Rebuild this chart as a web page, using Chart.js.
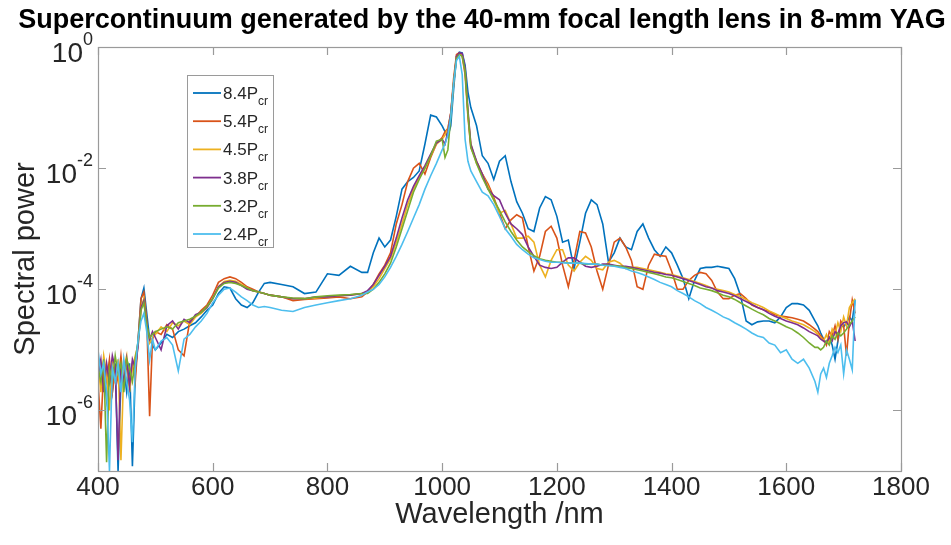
<!DOCTYPE html>
<html>
<head>
<meta charset="utf-8">
<title>Supercontinuum</title>
<script src="https://cdn.jsdelivr.net/npm/chart.js@4.4.1/dist/chart.umd.min.js"></script>
<style>
  html, body { margin: 0; padding: 0; background: #fff; }
</style>
</head>
<body>
<canvas id="myChart" width="951" height="545"></canvas>
<script>
// wavelength grid (nm)
const wavelength = [
  400,405,410,415,420,425,430,435,440,445,450,455,460,465,470,475,480,485,490,495,500,
  510,520,530,540,550,560,570,580,590,600,610,620,630,640,650,660,670,680,690,700,
  720,740,760,780,800,820,840,860,
  870,880,890,900,910,920,930,940,950,960,970,980,990,1000,
  1005,1010,1015,1020,1025,1030,1035,1040,1045,1050,
  1060,1070,1080,1090,1100,1110,1120,1130,1140,1150,
  1160,1170,1180,1190,1200,1210,1220,1230,1240,1250,
  1260,1270,1280,1290,1300,1310,1320,1330,1340,1350,
  1360,1370,1380,1390,1400,1410,1420,1430,1440,1450,
  1460,1470,1480,1490,1500,1510,1520,1530,1540,1550,
  1560,1570,1580,1590,1600,1610,1620,1630,1640,1650,
  1655,1660,1665,1670,1675,1680,1685,1690,1695,1700,1705,1710,1715,1720
];

// spectral power for each pump power
const p84 = [
  8e-6,3e-6,5e-6,1.5e-6,4e-6,2e-6,6e-6,1e-7,3e-6,5e-6,2e-6,6e-6,1.2e-7,4e-6,1.5e-5,7e-5,1.05e-4,4e-5,1.5e-5,1.2e-5,1e-5,
  1.3e-5,1.8e-5,1.6e-5,2e-5,2.2e-5,2.5e-5,2.8e-5,3.5e-5,4.5e-5,5.5e-5,8.5e-5,1.1e-4,1.05e-4,7e-5,5.5e-5,5e-5,6e-5,9e-5,1.25e-4,1.3e-4,
  1.2e-4,1.1e-4,8.5e-5,9e-5,1.8e-4,1.7e-4,2.4e-4,1.9e-4,
  1.9e-4,4e-4,7e-4,5e-4,6.5e-4,1.6e-3,4.5e-3,6e-3,7e-3,9e-3,2.5e-2,7.5e-2,7e-2,5e-2,
  4e-2,3.3e-2,5e-2,2e-1,7e-1,8.2e-1,8e-1,5e-1,1.8e-1,1e-1,
  5e-2,1.6e-2,1.2e-2,6.5e-3,1.3e-2,1.6e-2,6e-3,2.8e-3,1.8e-3,1e-3,
  9e-4,2.2e-3,3.4e-3,3e-3,1.6e-3,6e-4,6.5e-4,2.2e-4,6e-4,1.8e-3,
  3e-3,2.5e-3,1.2e-3,2.8e-4,4e-4,7e-4,5e-4,4.5e-4,9e-4,1.2e-3,
  7e-4,4.5e-4,3.5e-4,5e-4,4e-4,2.5e-4,1.5e-4,7e-5,1.4e-4,2.2e-4,
  2.3e-4,2.3e-4,2.4e-4,2.3e-4,2.2e-4,1.5e-4,8e-5,3e-5,2.6e-5,2.9e-5,
  3e-5,3e-5,2.8e-5,3.5e-5,5e-5,5.8e-5,5.8e-5,5.5e-5,4.5e-5,3e-5,
  2.5e-5,1.9e-5,1.5e-5,1.3e-5,1.6e-5,1.2e-5,7e-6,1.4e-5,2.5e-5,2.4e-5,2.8e-5,3.5e-5,3e-5,6.7e-5
];
const p54 = [
  3e-6,5e-7,5e-6,3e-6,7e-6,2e-6,5e-6,3e-6,8e-6,2.5e-6,6e-6,3e-6,6e-6,3e-6,1.5e-5,7e-5,9e-5,3e-5,8e-7,1.5e-5,2e-5,
  1.8e-5,2.6e-5,2.2e-5,1e-5,8e-6,3e-5,3.5e-5,4.5e-5,5.5e-5,8e-5,1.3e-4,1.5e-4,1.6e-4,1.5e-4,1.3e-4,1.1e-4,1e-4,9e-5,8.5e-5,8e-5,
  7.5e-5,6.5e-5,6.8e-5,7e-5,7.2e-5,7.5e-5,7e-5,7.5e-5,
  9e-5,1.2e-4,1.8e-4,2.5e-4,4e-4,1.2e-3,2.5e-3,6e-3,1e-2,1.2e-2,8e-3,1.5e-2,2.5e-2,3.2e-2,
  4e-2,4.5e-2,8e-2,3e-1,7.5e-1,8e-1,7e-1,3.5e-1,7e-2,2.2e-2,
  1.3e-2,8e-3,5.5e-3,3.3e-3,1.8e-3,1e-3,1.4e-3,1.7e-3,1.5e-3,5e-4,
  2e-4,3.5e-4,9e-4,1.1e-3,7e-4,2.5e-4,1.1e-4,3e-4,9e-4,8.5e-4,
  5e-4,2e-4,1e-4,2.5e-4,6e-4,7e-4,5e-4,3e-4,1.1e-4,1e-4,
  2.5e-4,3.8e-4,3.6e-4,3.5e-4,2e-4,1e-4,1e-4,1.4e-4,1.7e-4,1.9e-4,
  1.8e-4,1.4e-4,9e-5,7e-5,7e-5,8e-5,8.5e-5,7e-5,5.5e-5,5e-5,
  4.6e-5,4.3e-5,3.8e-5,3.6e-5,3.5e-5,3.4e-5,3.2e-5,3e-5,2.6e-5,2.2e-5,
  2e-5,1.7e-5,1.5e-5,1.2e-5,2e-5,1.7e-5,2.5e-5,1.5e-5,3e-5,2.5e-5,8e-6,3e-5,6.7e-5,4e-5
];
const p45 = [
  6e-6,2e-6,8e-6,4e-6,1e-6,6e-6,3e-6,7e-6,1.5e-7,5e-6,8e-6,2e-6,5e-6,8e-6,1.2e-5,5e-5,7e-5,2.5e-5,1.3e-5,1.6e-5,1.8e-5,
  2.4e-5,2e-5,2.8e-5,2.5e-5,3e-5,2.6e-5,3.5e-5,4e-5,5e-5,7e-5,1.1e-4,1.35e-4,1.4e-4,1.35e-4,1.2e-4,1.05e-4,9.5e-5,9e-5,8.5e-5,8e-5,
  7.5e-5,7e-5,7e-5,7.2e-5,7.5e-5,7.8e-5,8e-5,8.5e-5,
  9e-5,1.1e-4,1.5e-4,2.2e-4,3.2e-4,6e-4,1.2e-3,2.5e-3,4.5e-3,7e-3,1e-2,1.6e-2,2.5e-2,3e-2,
  3.5e-2,4.5e-2,8e-2,2.5e-1,7e-1,7.8e-1,7.5e-1,4e-1,8e-2,2.5e-2,
  1.2e-2,8e-3,5e-3,3e-3,1.8e-3,2e-3,1.2e-3,7e-4,7e-4,7.5e-4,
  6e-4,2.5e-4,1.6e-4,3e-4,4.5e-4,4.5e-4,2.5e-4,2e-4,2.8e-4,3.5e-4,
  3e-4,2.2e-4,2.1e-4,2.8e-4,3e-4,2.7e-4,2.2e-4,2.3e-4,2.3e-4,2.2e-4,
  2.1e-4,2e-4,1.9e-4,1.8e-4,1.75e-4,1.65e-4,1.55e-4,1.45e-4,1.35e-4,1.25e-4,
  1.15e-4,1.05e-4,1e-4,9.5e-5,9e-5,8.2e-5,7.5e-5,6.8e-5,6e-5,5.5e-5,
  5e-5,4.4e-5,4e-5,3.6e-5,3.3e-5,3e-5,2.8e-5,2.6e-5,2.3e-5,2e-5,
  1.8e-5,1.6e-5,1.4e-5,1.8e-5,1.3e-5,2.2e-5,1.8e-5,2.8e-5,2e-5,3.5e-5,2.5e-5,5e-5,6e-5,7e-5
];
const p38 = [
  4e-6,7e-6,2e-6,6e-6,3e-6,8e-6,5e-6,1.5e-7,6e-6,3e-6,7e-6,2.5e-6,7e-6,5e-6,1.2e-5,5e-5,6.5e-5,2.5e-5,1.5e-5,2e-5,1.6e-5,
  1e-5,2.5e-5,3e-5,2.2e-5,3.2e-5,2.8e-5,3.8e-5,4.2e-5,5e-5,7e-5,1.1e-4,1.3e-4,1.35e-4,1.3e-4,1.15e-4,1e-4,9.5e-5,9e-5,8.5e-5,8e-5,
  7.5e-5,7e-5,7e-5,7.5e-5,7.5e-5,7.8e-5,8e-5,8.5e-5,
  9.5e-5,1.2e-4,1.7e-4,2.4e-4,3.5e-4,7e-4,1.5e-3,3e-3,5e-3,7.5e-3,1.1e-2,1.7e-2,2.6e-2,3e-2,
  2.5e-2,4e-2,8e-2,2.5e-1,7e-1,8e-1,7.8e-1,4.5e-1,9e-2,2.5e-2,
  1.3e-2,8e-3,4.5e-3,3.5e-3,3e-3,1.8e-3,1.2e-3,1e-3,8e-4,5e-4,
  3.5e-4,2.5e-4,2.3e-4,2.2e-4,2.3e-4,2.8e-4,3.3e-4,3.3e-4,2.8e-4,2.4e-4,
  2.3e-4,2.4e-4,2.6e-4,2.6e-4,2.5e-4,2.4e-4,2.4e-4,2.3e-4,2.2e-4,2.1e-4,
  2e-4,1.9e-4,1.85e-4,1.75e-4,1.7e-4,1.6e-4,1.5e-4,1.4e-4,1.3e-4,1.2e-4,
  1.1e-4,1.05e-4,9.5e-5,9e-5,8.5e-5,7.8e-5,7e-5,6.3e-5,5.6e-5,5e-5,
  4.6e-5,4e-5,3.6e-5,3.3e-5,3e-5,2.8e-5,2.6e-5,2.3e-5,2e-5,1.8e-5,
  1.7e-5,1.5e-5,1.4e-5,1.3e-5,1.6e-5,1.4e-5,2e-5,1.8e-5,2.5e-5,2.8e-5,2.9e-5,2.4e-5,3e-5,1.4e-5
];
const p32 = [
  5e-6,3e-6,7e-6,1.4e-7,5e-6,3e-6,8e-6,4e-6,6e-6,2e-6,7e-6,5e-6,3e-6,7e-6,1.4e-5,4.5e-5,6e-5,2.5e-5,1.6e-5,1.8e-5,2e-5,
  2.2e-5,2.4e-5,2.2e-5,2.8e-5,3e-5,3.2e-5,3.6e-5,4.2e-5,5.2e-5,7e-5,1.05e-4,1.25e-4,1.3e-4,1.25e-4,1.15e-4,1.05e-4,9.5e-5,9e-5,8.5e-5,8e-5,
  7.5e-5,7.2e-5,7e-5,7.5e-5,7.8e-5,8e-5,8.2e-5,8.5e-5,
  8.5e-5,1e-4,1.3e-4,1.8e-4,2.7e-4,5e-4,1e-3,2e-3,4e-3,6.5e-3,1e-2,1.6e-2,2.8e-2,3e-2,
  1.5e-2,2e-2,7e-2,2.5e-1,6.5e-1,7.5e-1,7e-1,4e-1,8e-2,2.2e-2,
  1.2e-2,7e-3,4.5e-3,3e-3,2e-3,1.3e-3,9e-4,6.5e-4,5e-4,4.2e-4,
  3.6e-4,3.2e-4,3e-4,2.9e-4,2.8e-4,2.8e-4,2.7e-4,2.7e-4,2.7e-4,2.6e-4,
  2.6e-4,2.6e-4,2.5e-4,2.5e-4,2.45e-4,2.4e-4,2.3e-4,2.2e-4,2.1e-4,2e-4,
  1.9e-4,1.8e-4,1.7e-4,1.6e-4,1.55e-4,1.45e-4,1.35e-4,1.25e-4,1.15e-4,1.05e-4,
  1e-4,9.5e-5,8.8e-5,8e-5,7.5e-5,6.8e-5,6e-5,5.3e-5,4.7e-5,4.2e-5,
  3.8e-5,3.3e-5,3e-5,2.7e-5,2.4e-5,2.2e-5,1.9e-5,1.6e-5,1.3e-5,1.1e-5,
  1.1e-5,1e-5,1.1e-5,1.4e-5,1.2e-5,1.7e-5,1.5e-5,1.9e-5,1.7e-5,1.9e-5,2.2e-5,2.6e-5,3e-5,3.5e-5
];
const p24 = [
  1e-5,4e-6,6e-6,2e-6,1e-7,5e-6,3e-6,6e-6,2e-6,7e-6,3e-6,1.5e-6,3e-7,5e-6,1.5e-5,3e-5,4e-5,2e-5,6.8e-6,1.5e-5,1e-5,
  1.4e-5,1.6e-5,1.2e-5,4.5e-6,1.5e-5,1.8e-5,2.4e-5,3e-5,4e-5,6e-5,8e-5,1e-4,1.05e-4,9e-5,7.5e-5,6.5e-5,5.5e-5,5e-5,5.2e-5,5e-5,
  4.5e-5,4.3e-5,5e-5,5.5e-5,6e-5,6.5e-5,7e-5,8e-5,
  9e-5,1e-4,1.2e-4,1.6e-4,2.3e-4,3.5e-4,5.5e-4,9e-4,1.5e-3,2.5e-3,4.5e-3,7.5e-3,1.2e-2,2e-2,
  2.5e-2,3.5e-2,7e-2,2.5e-1,6e-1,7e-1,3.5e-1,3e-2,1.3e-2,9e-3,
  6e-3,4e-3,3.5e-3,2.5e-3,1.6e-3,1e-3,7.5e-4,5.5e-4,4.5e-4,3.8e-4,
  3.3e-4,3.1e-4,2.9e-4,2.8e-4,2.8e-4,2.75e-4,2.7e-4,2.7e-4,2.7e-4,2.65e-4,
  2.6e-4,2.6e-4,2.5e-4,2.45e-4,2.4e-4,2.3e-4,2.2e-4,2e-4,1.9e-4,1.75e-4,
  1.6e-4,1.45e-4,1.3e-4,1.2e-4,1.1e-4,9.5e-5,8.5e-5,7.5e-5,6.5e-5,5.8e-5,
  5e-5,4.5e-5,4e-5,3.5e-5,3.2e-5,2.8e-5,2.5e-5,2.2e-5,1.9e-5,1.7e-5,
  1.6e-5,1.3e-5,1.2e-5,9e-6,1e-5,7e-6,6e-6,7e-6,5e-6,3e-6,
  2e-6,4e-6,5e-6,3.5e-6,6e-6,8e-6,1.1e-5,9e-6,1.2e-5,4e-6,1e-5,7e-6,4.7e-6,6.7e-5
];

const seriesLabels = ['8.4', '5.4', '4.5', '3.8', '3.2', '2.4'];
const seriesColors = ['#0072BD', '#D95319', '#EDB120', '#7E2F8E', '#77AC30', '#4DBEEE'];
const xTickValues = [400, 600, 800, 1000, 1200, 1400, 1600, 1800];
const yTickValues = [1, 1e-2, 1e-4, 1e-6];
const yTickExponents = ['0', '-2', '-4', '-6'];
const chartTitle = 'Supercontinuum generated by the 40-mm focal length lens in 8-mm YAG';

const FONT = "'Liberation Sans', Arial, sans-serif";
const allSeries = [p84, p54, p45, p38, p32, p24];

const datasets = allSeries.map((vals, i) => ({
  label: seriesLabels[i] + 'Pcr',
  data: wavelength.map((w, k) => ({ x: w, y: vals[k] })),
  borderColor: seriesColors[i],
  backgroundColor: seriesColors[i],
  borderWidth: 1.6,
  pointRadius: 0,
  tension: 0,
  fill: false,
  order: allSeries.length - i   // last series on top, like matlab
}));

// box, inward ticks, y labels with superscripts, title and legend
const decorations = {
  id: 'decorations',
  afterDraw(chart) {
    const { ctx, chartArea: a, scales: { x, y } } = chart;
    ctx.save();

    ctx.strokeStyle = '#9a9a9a';
    ctx.lineWidth = 1.2;
    ctx.strokeRect(a.left + 0.5, a.top + 0.5, a.right - a.left, a.bottom - a.top);
    ctx.beginPath();
    xTickValues.forEach(v => {
      const px = Math.round(x.getPixelForValue(v)) + 0.5;
      ctx.moveTo(px, a.bottom); ctx.lineTo(px, a.bottom - 8);
      ctx.moveTo(px, a.top); ctx.lineTo(px, a.top + 8);
    });
    yTickValues.forEach(v => {
      const py = Math.round(y.getPixelForValue(v)) + 0.5;
      ctx.moveTo(a.left, py); ctx.lineTo(a.left + 8, py);
      ctx.moveTo(a.right, py); ctx.lineTo(a.right - 8, py);
    });
    ctx.stroke();

    // y tick labels: 10 with exponent
    ctx.fillStyle = '#262626';
    ctx.textBaseline = 'alphabetic';
    yTickValues.forEach((v, i) => {
      const py = y.getPixelForValue(v);
      ctx.font = '18px ' + FONT;
      const ew = ctx.measureText(yTickExponents[i]).width;
      const right = a.left - 5;
      ctx.textAlign = 'left';
      ctx.fillText(yTickExponents[i], right - ew, py - 2);
      ctx.font = '28px ' + FONT;
      ctx.textAlign = 'right';
      ctx.fillText('10', right - ew, py + 15);
    });

    // title
    ctx.fillStyle = '#000';
    ctx.font = 'bold 27px ' + FONT;
    ctx.textAlign = 'center';
    ctx.fillText(chartTitle, 482, 28);

    // legend
    const lx = 187.5, ly = 75.5, lw = 86, lh = 172;
    ctx.fillStyle = '#fff';
    ctx.fillRect(lx, ly, lw, lh);
    ctx.strokeStyle = '#9a9a9a';
    ctx.lineWidth = 1;
    ctx.strokeRect(lx, ly, lw, lh);
    seriesLabels.forEach((lab, i) => {
      const cy = 93 + i * 28.2;
      ctx.strokeStyle = seriesColors[i];
      ctx.lineWidth = 1.8;
      ctx.beginPath();
      ctx.moveTo(193, cy); ctx.lineTo(221, cy);
      ctx.stroke();
      ctx.fillStyle = '#262626';
      ctx.textAlign = 'left';
      ctx.font = '17px ' + FONT;
      const main = lab + 'P';
      ctx.fillText(main, 223, cy + 6);
      const mw = ctx.measureText(main).width;
      ctx.font = '12px ' + FONT;
      ctx.fillText('cr', 223 + mw, cy + 12);
    });

    ctx.restore();
  }
};

const myChart = document.getElementById('myChart').getContext('2d');

new Chart(myChart, {
  type: 'line',
  data: { datasets: datasets },
  options: {
    responsive: false,
    animation: false,
    devicePixelRatio: 1,
    layout: { padding: { top: 47, right: 50, left: 0, bottom: 0 } },
    plugins: {
      legend: { display: false },
      title: { display: false },
      tooltip: { enabled: false }
    },
    scales: {
      x: {
        type: 'linear',
        min: 400,
        max: 1800,
        afterBuildTicks: s => { s.ticks = xTickValues.map(v => ({ value: v })); },
        afterFit: s => { s.height = 74; },
        grid: { display: false, drawTicks: false },
        border: { display: false },
        ticks: {
          color: '#262626',
          font: { family: FONT, size: 26 },
          padding: 1,
          maxRotation: 0,
          autoSkip: false,
          callback: v => String(v)
        },
        title: {
          display: true,
          text: 'Wavelength /nm',
          color: '#262626',
          font: { family: FONT, size: 29 },
          padding: { top: 0, bottom: 13 }
        }
      },
      y: {
        type: 'logarithmic',
        min: 1e-7,
        max: 1,
        afterBuildTicks: s => { s.ticks = yTickValues.map(v => ({ value: v })); },
        afterFit: s => { s.width = 98; },
        grid: { display: false, drawTicks: false },
        border: { display: false },
        ticks: { display: false },
        title: {
          display: true,
          text: 'Spectral power',
          color: '#262626',
          font: { family: FONT, size: 29 },
          padding: { top: 9, bottom: 0 }
        }
      }
    }
  },
  plugins: [decorations]
});
</script>
</body>
</html>
